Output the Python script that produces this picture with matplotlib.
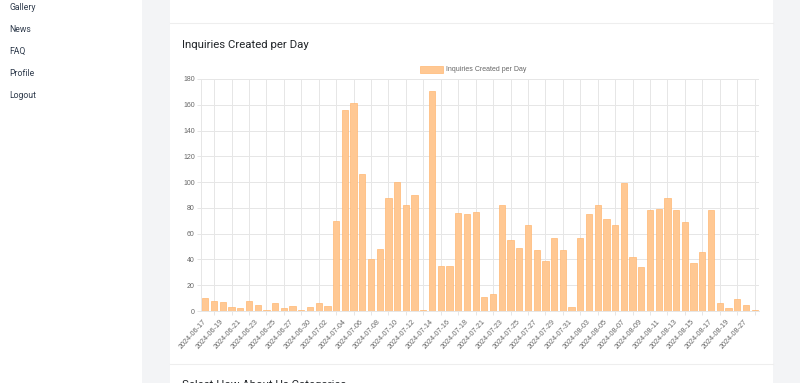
import matplotlib
matplotlib.use("Agg")
import matplotlib.pyplot as plt
from matplotlib.patches import Rectangle
from matplotlib.lines import Line2D

# ---------------- data ----------------
dates = [
    "2024-06-17", "2024-06-18", "2024-06-19", "2024-06-20", "2024-06-21", "2024-06-22",
    "2024-06-23", "2024-06-24", "2024-06-25", "2024-06-26", "2024-06-27", "2024-06-28",
    "2024-06-30", "2024-07-01", "2024-07-02", "2024-07-03", "2024-07-04", "2024-07-05",
    "2024-07-06", "2024-07-07", "2024-07-08", "2024-07-09", "2024-07-10", "2024-07-11",
    "2024-07-12", "2024-07-13", "2024-07-14", "2024-07-15", "2024-07-16", "2024-07-17",
    "2024-07-18", "2024-07-19", "2024-07-21", "2024-07-22", "2024-07-23", "2024-07-24",
    "2024-07-25", "2024-07-26", "2024-07-27", "2024-07-28", "2024-07-29", "2024-07-30",
    "2024-07-31", "2024-08-01", "2024-08-03", "2024-08-04", "2024-08-05", "2024-08-06",
    "2024-08-07", "2024-08-08", "2024-08-09", "2024-08-10", "2024-08-11", "2024-08-12",
    "2024-08-13", "2024-08-14", "2024-08-15", "2024-08-16", "2024-08-17", "2024-08-18",
    "2024-08-19", "2024-08-20", "2024-08-27", "2024-08-28",
]
inquiries = [
    10, 8, 7, 3, 2, 8, 5, 1, 6, 2, 4, 1, 3, 6, 4, 70,
    156, 161, 106, 40, 48, 88, 100, 82, 90, 1, 171, 35, 35, 76, 75, 77,
    11, 13, 82, 55, 49, 67, 47, 39, 57, 47, 3, 57, 75, 82, 71, 67,
    99, 42, 34, 78, 79, 88, 78, 69, 37, 46, 78, 6, 2, 9, 5, 1,
]
series_name = "Inquiries Created per Day"
nav_items = ["Gallery", "News", "FAQ", "Profile", "Logout"]
y_ticks = [0, 20, 40, 60, 80, 100, 120, 140, 160, 180]
title_text = "Inquiries Created per Day"
next_title = "Select How About Us Categories"

# ---------------- styling ----------------
W, H = 800, 383
BAR_FILL = "#ffc893"
BAR_EDGE = "#ffb772"
GRID = "#e6e6e6"
TICKC = "#666666"
CHART_FONT = ["Liberation Sans", "DejaVu Sans"]
UI_FONT = ["Roboto", "DejaVu Sans"]

fig = plt.figure(figsize=(W / 100, H / 100), dpi=100)
fig.patch.set_facecolor("#f3f4f6")


def fx(x):
    return x / W


def fy(y):
    return 1 - y / H


def rect(x0, y0, x1, y1, color):
    fig.add_artist(Rectangle((fx(x0), fy(y1)), fx(x1) - fx(x0), fy(y0) - fy(y1),
                             transform=fig.transFigure, facecolor=color,
                             edgecolor="none", zorder=0))


# sidebar and card
rect(0, 0, 142, H, "white")
rect(170, 0, 773, H, "white")
for yy in (23, 364):
    fig.add_artist(Line2D([fx(170), fx(773)], [fy(yy), fy(yy)],
                          transform=fig.transFigure, color="#eeeeee", lw=0.8))

nav_y = [7, 29, 51, 74, 96]
for name, yy in zip(nav_items, nav_y):
    fig.text(fx(9), fy(yy), name, fontsize=6.2, color="#2f3b4c",
             family=UI_FONT, va="center", ha="left")

# fragments of previous chart's rotated labels at the very top
for xx in (190, 362, 462, 618):
    fig.text(fx(xx), fy(-38), "2024-07-00", fontsize=5.2, color="#999999",
             family=CHART_FONT, rotation=48, rotation_mode="anchor",
             ha="right", va="center")

fig.text(fx(182), fy(45), title_text, fontsize=8.2, color="#212529",
         family=UI_FONT, va="center", ha="left")
fig.text(fx(182), fy(380.5), next_title, fontsize=8.2, color="#212529",
         family=UI_FONT, va="top", ha="left")

# ---------------- chart ----------------
left, right, top, bottom = 201, 759, 79, 311
ax = fig.add_axes([fx(left), fy(bottom), fx(right) - fx(left), fy(top) - fy(bottom)])
ax.set_facecolor("none")

n = len(inquiries)
xs = list(range(n))
ax.bar(xs, inquiries, width=0.72, color=BAR_FILL, edgecolor=BAR_EDGE,
       linewidth=0.5, zorder=3)

ax.set_xlim(-0.5, n - 0.5)
ax.set_ylim(0, 180)
ax.set_yticks(y_ticks)
ax.set_yticklabels([str(v) for v in y_ticks])

# labels at every other category; grid lines (Chart.js style) at odd categories
ax.set_xticks(xs[::2])
ax.set_xticklabels(dates[::2])
ax.set_xticks([x for x in xs if x % 2 == 1], minor=True)
ax.tick_params(axis="x", which="major", length=0, pad=7, labelsize=5.2,
               labelcolor=TICKC)
ax.tick_params(axis="x", which="minor", length=3, color=GRID, width=0.7)
ax.tick_params(axis="y", length=3, color=GRID, width=0.7, pad=1.5,
               labelsize=5, labelcolor=TICKC)
for lab in ax.get_xticklabels() + ax.get_yticklabels():
    lab.set_family(CHART_FONT)
plt.setp(ax.get_xticklabels(), rotation=48, ha="right", va="center",
         rotation_mode="anchor")

ax.grid(axis="y", color=GRID, lw=0.7, zorder=0)
ax.grid(axis="x", which="minor", color=GRID, lw=0.7, zorder=0)
ax.set_axisbelow(True)
for s in ("top", "right"):
    ax.spines[s].set_visible(False)
for s in ("left", "bottom"):
    ax.spines[s].set_color(GRID)
    ax.spines[s].set_linewidth(0.7)

# legend (Chart.js style, centered on top)
fig.add_artist(Rectangle((fx(420), fy(73)), fx(443) - fx(420), fy(66) - fy(73),
                         transform=fig.transFigure, facecolor=BAR_FILL,
                         edgecolor=BAR_EDGE, linewidth=0.5))
fig.text(fx(446), fy(69.5), series_name, fontsize=5, color=TICKC,
         family=CHART_FONT, va="center", ha="left")

fig.savefig("out.png", dpi=100, facecolor=fig.get_facecolor())
